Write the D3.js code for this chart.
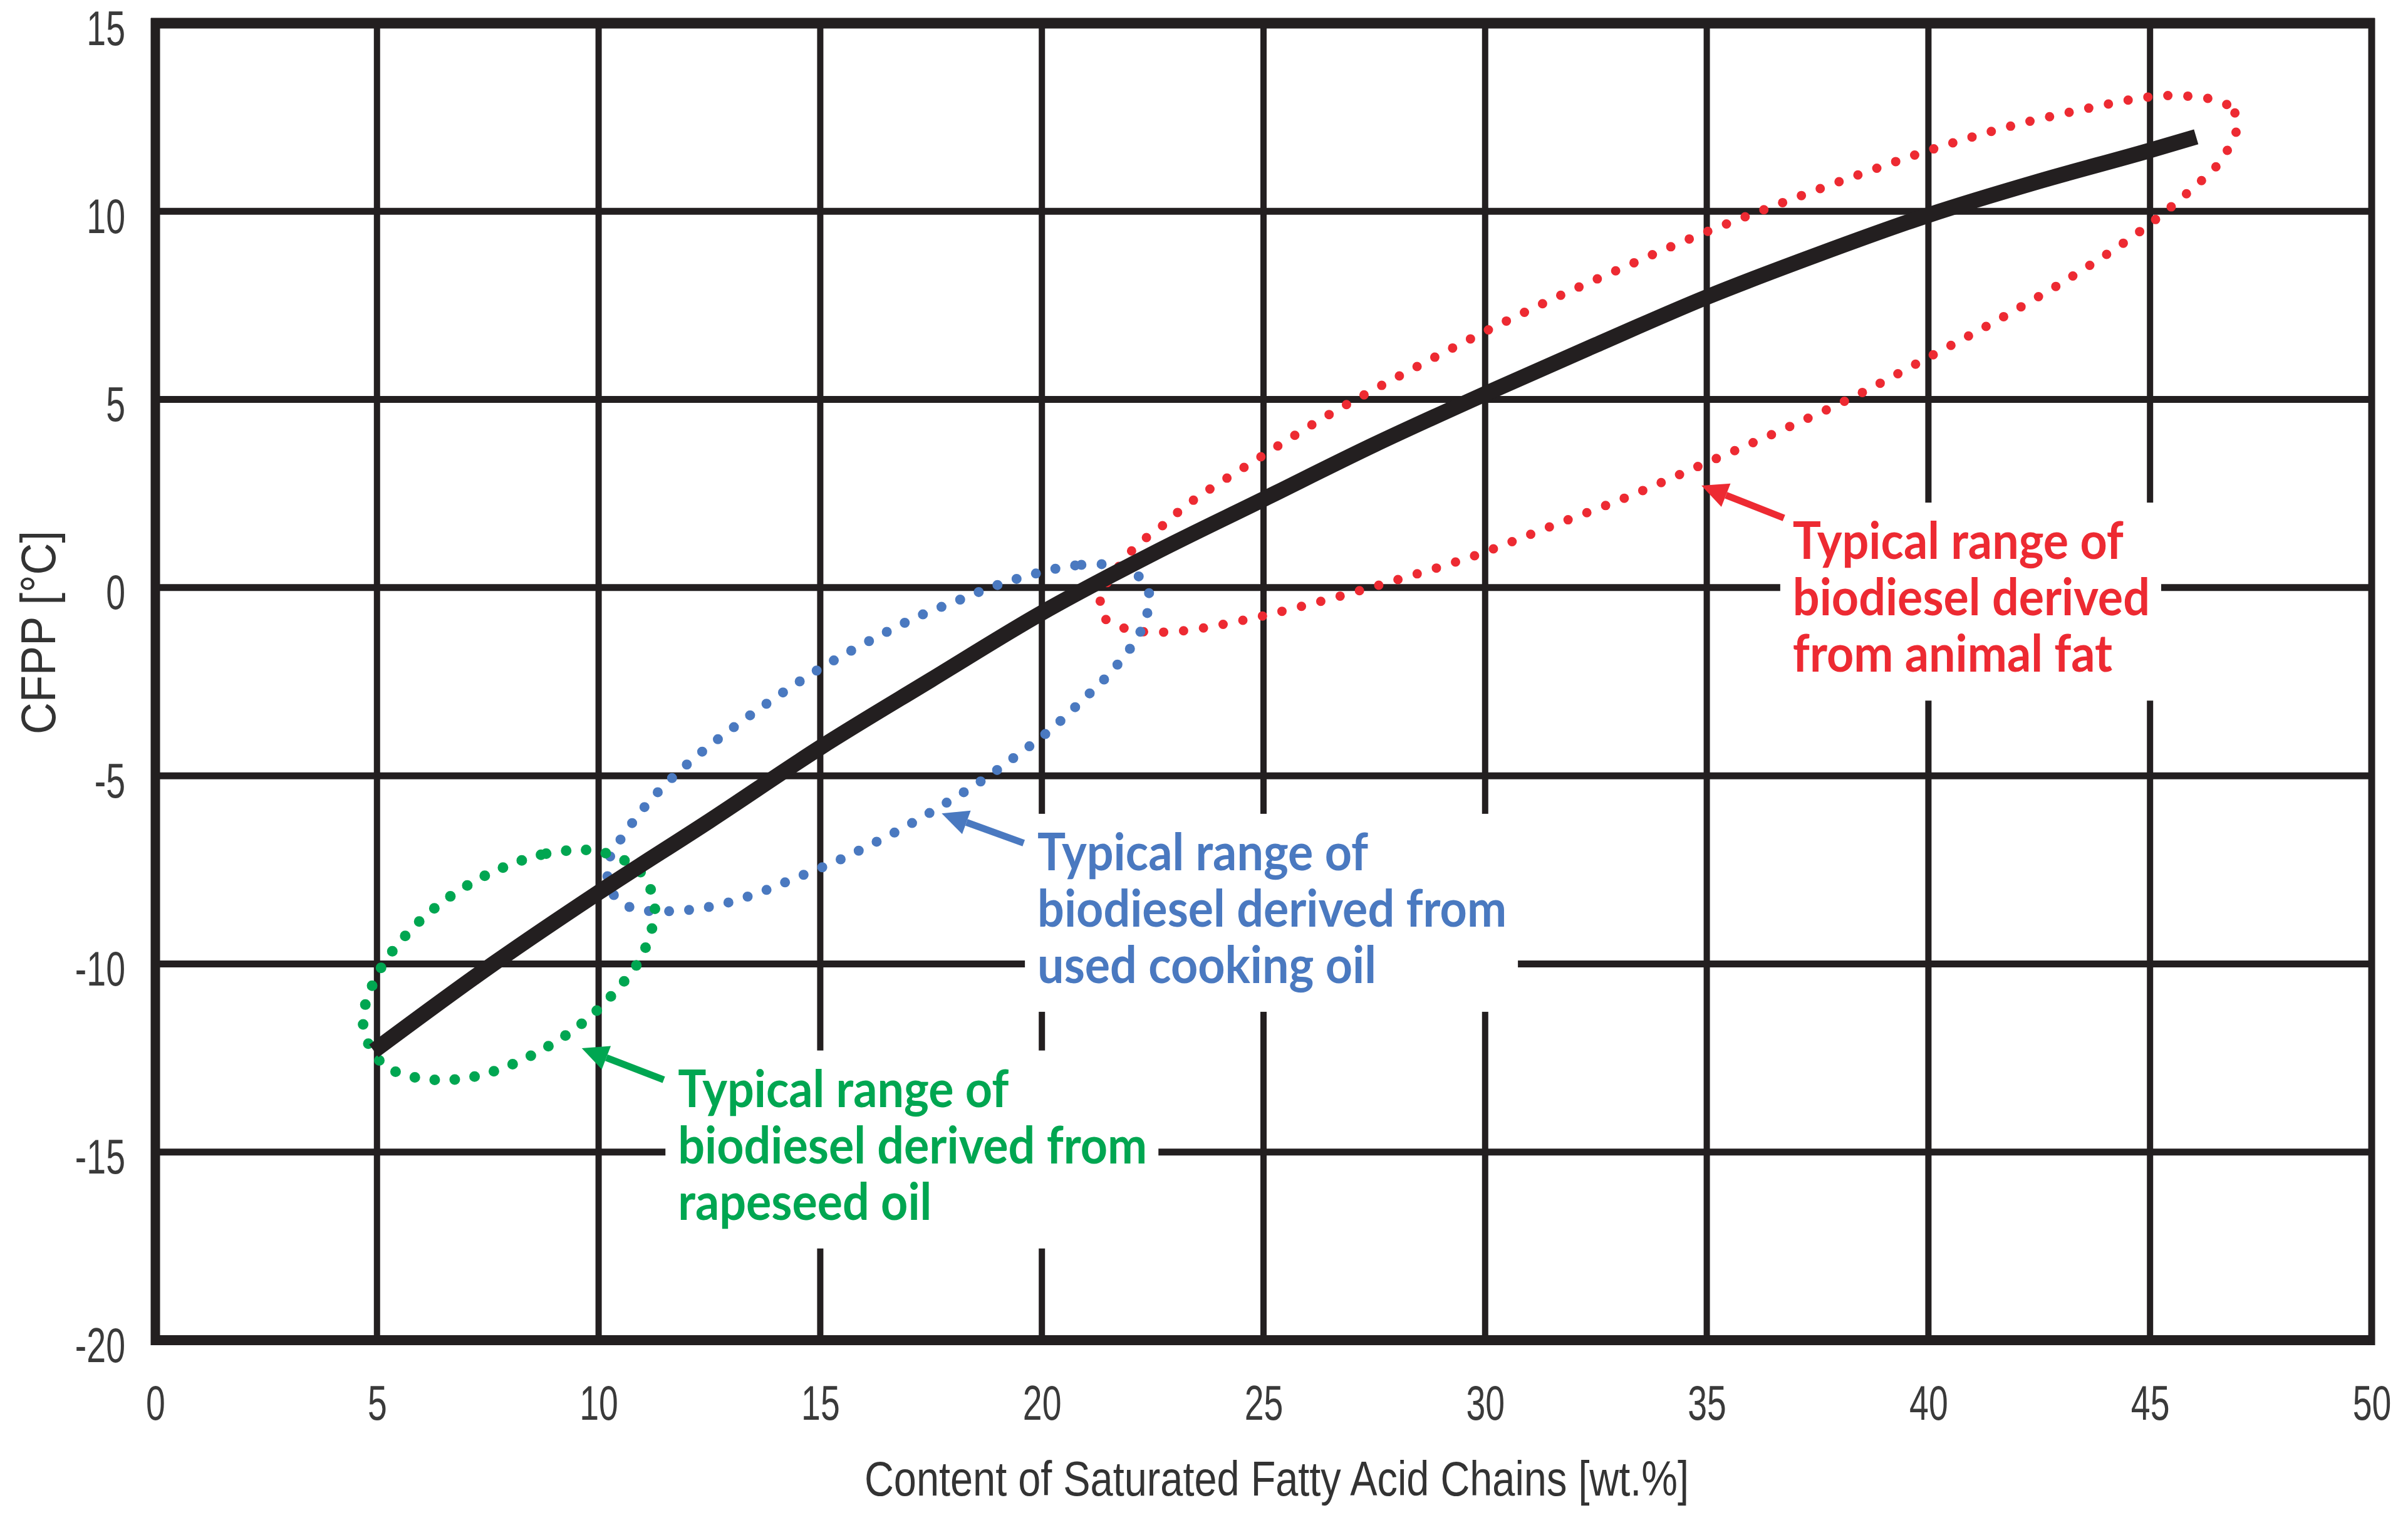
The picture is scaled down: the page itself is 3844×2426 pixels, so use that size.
<!DOCTYPE html>
<html>
<head>
<meta charset="utf-8">
<script src="https://cdn.jsdelivr.net/npm/d3@7"></script>
<style>
  html, body { margin: 0; padding: 0; background: #fff; }
  svg { display: block; }
</style>
</head>
<body>
<svg id="chart" width="3844" height="2426"></svg>
<script>
// ---------------- DATA ----------------
const xTickValues = [0, 5, 10, 15, 20, 25, 30, 35, 40, 45, 50];
const yTickValues = [-20, -15, -10, -5, 0, 5, 10, 15];
const xAxisTitle = "Content of Saturated Fatty Acid Chains [wt.%]";
const yAxisTitle = "CFPP [°C]";

// CFPP vs saturated content (black curve)
const cfppX = [4.93, 7.5, 10, 12.5, 15, 17.5, 20, 22.5, 25, 27.5, 30, 32.5, 35, 37.5, 40, 42.5, 45, 46.04];
const cfppY = [-12.31, -10.1, -8.1, -6.2, -4.25, -2.45, -0.67, 0.9, 2.35, 3.8, 5.15, 6.45, 7.72, 8.85, 9.9, 10.8, 11.62, 11.98];

// typical-range outlines
const rapeseedX = [9.59, 8.70, 7.80, 7.13, 6.34, 5.64, 5.05, 4.69, 4.75, 4.99, 5.37, 6.26, 7.18, 8.05, 8.89, 9.67, 10.37, 10.97, 11.27, 11.16, 10.89, 10.48, 10.02];
const rapeseedY = [-6.97, -7.10, -7.46, -7.85, -8.48, -9.25, -10.19, -11.35, -11.95, -12.48, -12.84, -13.08, -13.00, -12.67, -12.17, -11.54, -10.74, -9.80, -8.59, -7.98, -7.49, -7.19, -7.02];

const cookingX = [21.66, 20.75, 19.85, 18.95, 18.09, 17.24, 16.38, 15.57, 14.94, 14.13, 13.34, 12.57, 11.83, 11.13, 10.55, 10.25, 10.21, 10.43, 10.88, 11.78, 12.68, 13.59, 14.44, 15.33, 16.16, 16.99, 17.83, 18.62, 19.39, 20.15, 20.89, 21.57, 22.15, 22.38, 22.40, 22.09];
const cookingY = [0.59, 0.59, 0.37, 0.05, -0.35, -0.75, -1.25, -1.76, -2.19, -2.81, -3.46, -4.14, -4.87, -5.70, -6.60, -7.18, -7.76, -8.30, -8.55, -8.59, -8.44, -8.12, -7.72, -7.29, -6.82, -6.31, -5.73, -5.15, -4.50, -3.82, -3.02, -2.23, -1.33, -0.67, -0.06, 0.39];

const animalX = [46.98, 46.73, 45.87, 44.98, 43.61, 41.81, 40.04, 38.30, 36.55, 34.84, 33.14, 31.45, 29.77, 28.12, 26.48, 24.89, 23.31, 22.60, 22.18, 21.88, 21.57, 21.34, 21.37, 21.75, 22.20, 23.09, 24.49, 26.24, 28.02, 29.79, 31.51, 33.25, 34.94, 36.62, 38.33, 40.00, 41.59, 43.27, 44.81, 45.92, 46.59];
const animalY = [12.38, 12.84, 13.06, 13.04, 12.74, 12.25, 11.63, 10.92, 10.16, 9.38, 8.52, 7.63, 6.67, 5.66, 4.60, 3.44, 2.23, 1.53, 1.17, 0.77, 0.30, -0.17, -0.75, -1.03, -1.16, -1.16, -0.88, -0.38, 0.21, 0.86, 1.64, 2.43, 3.29, 4.15, 5.08, 6.12, 7.13, 8.29, 9.50, 10.57, 11.34];

const rapeseedLabel = ["Typical range of", "biodiesel derived from", "rapeseed oil"];
const cookingLabel = ["Typical range of", "biodiesel derived from", "used cooking oil"];
const animalLabel = ["Typical range of", "biodiesel derived", "from animal fat"];

// ---------------- LAYOUT / STYLE ----------------
const INK = "#231f20";
const GREEN = "#00a651";
const BLUE = "#4a79c0";
const RED = "#ed2a32";

const x = d3.scaleLinear().domain([0, 50]).range([248, 3786]);
const y = d3.scaleLinear().domain([-20, 15]).range([2139, 37]);

const svg = d3.select("#chart");
const zip = (xs, ys) => xs.map((v, i) => [v, ys[i]]);

// grid
const gridG = svg.append("g");
gridG.selectAll("line.v").data(xTickValues.slice(1, -1)).join("line")
  .attr("class", "v")
  .attr("x1", d => x(d)).attr("x2", d => x(d))
  .attr("y1", y(15)).attr("y2", y(-20))
  .attr("stroke", INK).attr("stroke-width", 10);
gridG.selectAll("line.h").data(yTickValues.slice(1, -1)).join("line")
  .attr("class", "h")
  .attr("x1", x(0)).attr("x2", x(50))
  .attr("y1", d => y(d)).attr("y2", d => y(d))
  .attr("stroke", INK).attr("stroke-width", 11);

// white boxes behind annotation texts (hide grid)
const boxG = svg.append("g");

// frame
const frameG = svg.append("g").attr("stroke", INK);
frameG.append("line").attr("x1", x(0) - 7).attr("x2", x(50) + 5).attr("y1", y(15)).attr("y2", y(15)).attr("stroke-width", 17);
frameG.append("line").attr("x1", x(0) - 7).attr("x2", x(50) + 5).attr("y1", y(-20)).attr("y2", y(-20)).attr("stroke-width", 16);
frameG.append("line").attr("x1", x(0)).attr("x2", x(0)).attr("y1", y(15) - 8).attr("y2", y(-20) + 8).attr("stroke-width", 15);
frameG.append("line").attr("x1", x(50)).attr("x2", x(50)).attr("y1", y(15) - 8).attr("y2", y(-20) + 8).attr("stroke-width", 11);

// outlines (dotted)
const outline = d3.line().x(d => x(d[0])).y(d => y(d[1])).curve(d3.curveCatmullRomClosed.alpha(0.5));
const ranges = [
  { pts: zip(animalX, animalY), color: RED, w: 15 },
  { pts: zip(cookingX, cookingY), color: BLUE, w: 16 },
  { pts: zip(rapeseedX, rapeseedY), color: GREEN, w: 17 }
];
svg.append("g").selectAll("path").data(ranges).join("path")
  .attr("d", d => outline(d.pts))
  .attr("fill", "none")
  .attr("stroke", d => d.color)
  .attr("stroke-width", d => d.w)
  .attr("stroke-linecap", "round")
  .attr("stroke-dasharray", "0 32");

// main curve
const lineGen = d3.line().x(d => x(d[0])).y(d => y(d[1])).curve(d3.curveMonotoneX);
svg.append("path")
  .attr("d", lineGen(zip(cfppX, cfppY)))
  .attr("fill", "none").attr("stroke", INK).attr("stroke-width", 25)
  .attr("stroke-linecap", "butt").attr("stroke-linejoin", "round");

// axes
const tickFont = "'Liberation Sans Narrow', 'Liberation Sans', 'DejaVu Sans Condensed', sans-serif";
const tickSquash = 0.72;
const xAxisG = svg.append("g")
  .attr("transform", `translate(0,${y(-20)})`)
  .call(d3.axisBottom(x).tickValues(xTickValues).tickSize(0).tickFormat(d => String(d)));
xAxisG.select(".domain").remove();
xAxisG.attr("font-size", 77).attr("font-family", tickFont);
xAxisG.selectAll("text").each(function () {
  const t = d3.select(this);
  t.attr("dy", null).attr("y", 127).attr("fill", "#3a3a3a");
  const w = this.getComputedTextLength() * tickSquash;
  t.attr("text-anchor", "start").attr("x", -w / 2)
   .attr("textLength", w).attr("lengthAdjust", "spacingAndGlyphs");
});

const yAxisG = svg.append("g")
  .attr("transform", `translate(${x(0)},0)`)
  .call(d3.axisLeft(y).tickValues(yTickValues).tickSize(0).tickFormat(d => String(d)));
yAxisG.select(".domain").remove();
yAxisG.attr("font-size", 77).attr("font-family", tickFont);
yAxisG.selectAll("text").each(function () {
  const t = d3.select(this);
  t.attr("dy", null).attr("y", 34).attr("fill", "#3a3a3a");
  const w = this.getComputedTextLength() * tickSquash;
  t.attr("text-anchor", "start").attr("x", -48 - w)
   .attr("textLength", w).attr("lengthAdjust", "spacingAndGlyphs");
});

// axis titles
svg.append("text")
  .attr("font-family", tickFont).attr("font-size", 77).attr("fill", "#333")
  .attr("x", 2038 - 658).attr("y", 2387)
  .attr("textLength", 1316).attr("lengthAdjust", "spacingAndGlyphs")
  .text(xAxisTitle);
svg.append("text")
  .attr("font-family", tickFont).attr("font-size", 77).attr("fill", "#333")
  .attr("transform", "translate(88,1010) rotate(-90)")
  .attr("x", -162).attr("y", 0)
  .attr("textLength", 325).attr("lengthAdjust", "spacingAndGlyphs")
  .text(yAxisTitle);

// annotations
const annoFont = "Lato, 'Open Sans', 'Liberation Sans', sans-serif";
const annotations = [
  { lines: rapeseedLabel, color: GREEN, tx: 11.79, ty: -13.80, tail: [11.47, -13.08], tip: [9.62, -12.24] },
  { lines: cookingLabel, color: BLUE, tx: 19.90, ty: -7.51, tail: [19.59, -6.79], tip: [17.74, -6.00] },
  { lines: animalLabel, color: RED, tx: 36.94, ty: 0.76, tail: [36.74, 1.85], tip: [34.88, 2.71] }
];
const lineH = 90;
const annoG = svg.append("g");

// measure squash factor from the first line
const probe = annoG.append("text").attr("font-family", annoFont).attr("font-weight", 700)
  .attr("font-size", 82).text(rapeseedLabel[0]);
const annoSquash = 528 / probe.node().getComputedTextLength();
probe.remove();

annotations.forEach(a => {
  const x0 = x(a.tx), y0 = y(a.ty);
  let maxW = 0;
  const tg = annoG.append("g");
  a.lines.forEach((s, i) => {
    const t = tg.append("text")
      .attr("font-family", annoFont).attr("font-weight", 700).attr("font-size", 82)
      .attr("fill", a.color).attr("x", x0).attr("y", y0 + i * lineH).text(s);
    const w = t.node().getComputedTextLength() * annoSquash;
    t.attr("textLength", w).attr("lengthAdjust", "spacingAndGlyphs");
    maxW = Math.max(maxW, w);
  });
  boxG.append("rect")
    .attr("x", x0 - 20).attr("y", y0 - 90)
    .attr("width", maxW + 38).attr("height", (a.lines.length - 1) * lineH + 90 + 46)
    .attr("fill", "#fff");

  // arrow
  const tx = x(a.tail[0]), ty = y(a.tail[1]);
  const px = x(a.tip[0]), py = y(a.tip[1]);
  const ang = Math.atan2(py - ty, px - tx);
  const headL = 42, headW = 20;
  const bx = px - headL * Math.cos(ang), by = py - headL * Math.sin(ang);
  annoG.append("line").attr("x1", tx).attr("y1", ty).attr("x2", bx).attr("y2", by)
    .attr("stroke", a.color).attr("stroke-width", 11);
  const nx = -Math.sin(ang), ny = Math.cos(ang);
  annoG.append("path")
    .attr("d", `M${px},${py}L${bx + nx * headW},${by + ny * headW}L${bx - nx * headW},${by - ny * headW}Z`)
    .attr("fill", a.color);
});
</script>
</body>
</html>
